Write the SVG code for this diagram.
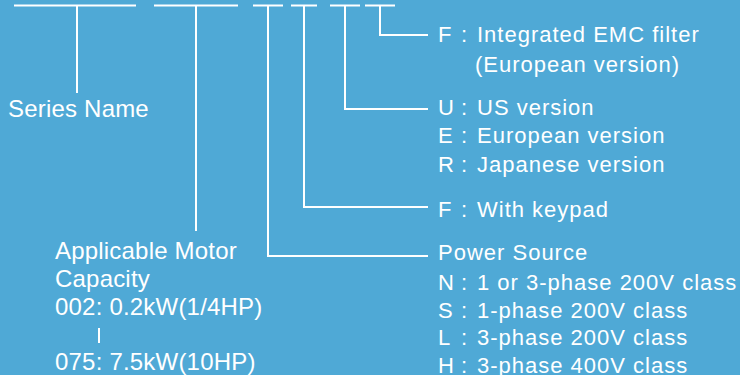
<svg xmlns="http://www.w3.org/2000/svg" width="740" height="375" viewBox="0 0 740 375">
<style>
.ln{stroke:#fff;stroke-width:2;fill:none}
.l{font-family:"Liberation Sans",Arial,sans-serif;font-size:24px;fill:#fff;letter-spacing:0.2px}
.r{font-family:"Liberation Sans",Arial,sans-serif;font-size:22px;fill:#fff;letter-spacing:1px}
</style>
<rect width="740" height="375" fill="#4fa9d6"/>
<g id="connectors">
<path class="ln" d="M14 5.5H136M77 5.5V93"/>
<path class="ln" d="M154 5.5H238M196 5.5V231"/>
<path class="ln" d="M253 5.5H283M268 5.5V256H428"/>
<path class="ln" d="M291 5.5H317M304 5.5V207H428"/>
<path class="ln" d="M330 5.5H360M345 5.5V109H428"/>
<path class="ln" d="M365 5.5H395M380 5.5V35H428"/>
</g>
<g id="series-name"><text class="l" x="8" y="117">Series Name</text></g>
<g id="motor-capacity">
<text class="l" x="55" y="259">Applicable Motor</text>
<text class="l" x="55" y="287">Capacity</text>
<text class="l" x="55" y="315">002: 0.2kW(1/4HP)</text>
<line class="ln" x1="99" y1="328" x2="99" y2="343"/>
<text class="l" x="55" y="370">075: 7.5kW(10HP)</text>
</g>
<g id="emc-filter">
<text class="r" x="438" y="42">F</text><text class="r" x="461" y="42">:</text><text class="r" x="477" y="42">Integrated EMC filter</text>
<text class="r" x="475" y="72">(European version)</text>
</g>
<g id="version">
<text class="r" x="438" y="115">U</text><text class="r" x="461" y="115">:</text><text class="r" x="477" y="115">US version</text>
<text class="r" x="438" y="143">E</text><text class="r" x="461" y="143">:</text><text class="r" x="477" y="143">European version</text>
<text class="r" x="438" y="172">R</text><text class="r" x="461" y="172">:</text><text class="r" x="477" y="172">Japanese version</text>
</g>
<g id="keypad">
<text class="r" x="438" y="217">F</text><text class="r" x="461" y="217">:</text><text class="r" x="477" y="217">With keypad</text>
</g>
<g id="power-source">
<text class="r" x="438" y="260">Power Source</text>
<text class="r" x="438" y="290">N</text><text class="r" x="461" y="290">:</text><text class="r" x="477" y="290">1 or 3-phase 200V class</text>
<text class="r" x="438" y="318">S</text><text class="r" x="461" y="318">:</text><text class="r" x="477" y="318">1-phase 200V class</text>
<text class="r" x="438" y="345">L</text><text class="r" x="461" y="345">:</text><text class="r" x="477" y="345">3-phase 200V class</text>
<text class="r" x="438" y="373">H</text><text class="r" x="461" y="373">:</text><text class="r" x="477" y="373">3-phase 400V class</text>
</g>
</svg>
